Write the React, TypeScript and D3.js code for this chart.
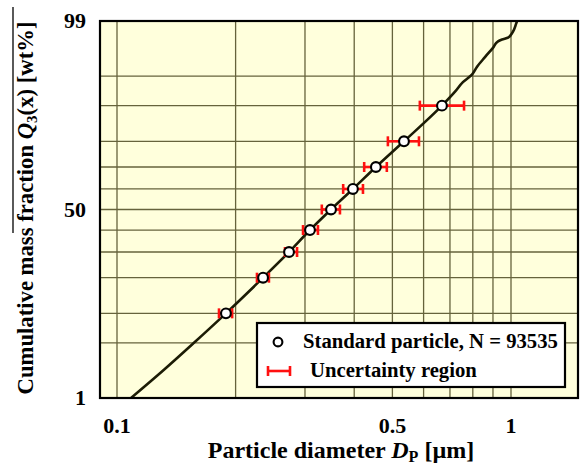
import React from 'react'
import * as d3 from 'd3'

// particle diameter [µm] at each measured cumulative fraction
const pointQ = [10, 20, 30, 40, 50, 60, 70, 80, 90]
const pointD = [0.189, 0.2348, 0.2733, 0.3089, 0.3493, 0.397, 0.454, 0.535, 0.668]
const errLow = [0.1815, 0.2266, 0.2669, 0.2966, 0.331, 0.375, 0.424, 0.487, 0.587]
const errHigh = [0.196, 0.243, 0.2864, 0.3236, 0.368, 0.421, 0.484, 0.584, 0.76]

// full distribution curve
const curveD = [0.1085, 0.1316, 0.1568, 0.189, 0.2348, 0.2733, 0.3089, 0.3493, 0.397, 0.454, 0.535, 0.668,
  0.721, 0.755, 0.796, 0.82, 0.859, 0.9, 0.927, 0.949, 0.983, 1.012, 1.03, 1.036]
const curveQ = [1, 2.4, 5, 10, 20, 30, 40, 50, 60, 70, 80, 90,
  92.7, 94.2, 95.2, 96.1, 97.0, 97.7, 98.1, 98.2, 98.3, 98.6, 98.9, 99.0]

const xTicks = [0.1, 0.5, 1]
const xGrid = [0.1, 0.2, 0.3, 0.4, 0.5, 0.6, 0.7, 0.8, 0.9, 1]
const yTicks = [1, 50, 99]
const yGrid = [5, 10, 20, 30, 40, 50, 60, 70, 80, 90, 95]

// inverse normal CDF (Acklam)
function probit(p: number) {
  const a = [-39.69683028665376, 220.9460984245205, -275.9285104469687, 138.357751867269, -30.66479806614716, 2.506628277459239]
  const b = [-54.47609879822406, 161.5858368580409, -155.6989798598866, 66.80131188771972, -13.28068155288572]
  const c = [-0.007784894002430293, -0.3223964580411365, -2.400758277161838, -2.549732539343734, 4.374664141464968, 2.938163982698783]
  const d = [0.007784695709041462, 0.3224671290700398, 2.445134137142996, 3.754408661907416]
  const pl = 0.02425
  if (p < pl) {
    const q = Math.sqrt(-2 * Math.log(p))
    return (((((c[0] * q + c[1]) * q + c[2]) * q + c[3]) * q + c[4]) * q + c[5]) / ((((d[0] * q + d[1]) * q + d[2]) * q + d[3]) * q + 1)
  }
  if (p > 1 - pl) {
    const q = Math.sqrt(-2 * Math.log(1 - p))
    return -(((((c[0] * q + c[1]) * q + c[2]) * q + c[3]) * q + c[4]) * q + c[5]) / ((((d[0] * q + d[1]) * q + d[2]) * q + d[3]) * q + 1)
  }
  const q = p - 0.5
  const r = q * q
  return (((((a[0] * r + a[1]) * r + a[2]) * r + a[3]) * r + a[4]) * r + a[5]) * q / (((((b[0] * r + b[1]) * r + b[2]) * r + b[3]) * r + b[4]) * r + 1)
}

const W = 581
const H = 466
const left = 100
const right = 578
const top = 21
const bottom = 398

export default function App() {
  // 0.1 sits at x=117, 1 at x=511
  const pxPerDecade = 394
  const dMin = 0.1 * Math.pow(10, (left - 117) / pxPerDecade)
  const dMax = 0.1 * Math.pow(10, (right - 117) / pxPerDecade)
  const x = d3.scaleLog().domain([dMin, dMax]).range([left, right])
  const z = d3.scaleLinear().domain([probit(0.01), probit(0.99)]).range([bottom, top])
  const y = (q: number) => z(probit(q / 100))

  const line = d3
    .line<number>()
    .x((d, i) => x(curveD[i]))
    .y((d) => y(d))
    .curve(d3.curveMonotoneY)

  const font = '"Liberation Serif", "Times New Roman", serif'
  const gridColor = '#66633c'

  return (
    <svg width={W} height={H} style={{ position: 'absolute', left: 0, top: 0, fontFamily: font, fontWeight: 'bold' }}>
      <rect x={0} y={0} width={W} height={H} fill="#fff" />
      <rect x={left} y={top} width={right - left} height={bottom - top} fill="#ffffdc" />
      <defs>
        <clipPath id="plot">
          <rect x={left} y={top} width={right - left} height={bottom - top} />
        </clipPath>
      </defs>
      {xGrid.map((v) => (
        <line key={'xg' + v} x1={x(v)} x2={x(v)} y1={top} y2={bottom} stroke={gridColor} strokeWidth={1.3} />
      ))}
      {yGrid.map((v) => (
        <line key={'yg' + v} x1={left} x2={right} y1={y(v)} y2={y(v)} stroke={gridColor} strokeWidth={1.3} />
      ))}
      <path d={line(curveQ) || ''} fill="none" stroke="#1c1c05" strokeWidth={2.6} clipPath="url(#plot)" />
      {pointQ.map((q, i) => (
        <g key={'e' + q} stroke="#ff1010" strokeWidth={2.6}>
          <line x1={x(errLow[i])} x2={x(errHigh[i])} y1={y(q)} y2={y(q)} />
          <line x1={x(errLow[i])} x2={x(errLow[i])} y1={y(q) - 5} y2={y(q) + 5} />
          <line x1={x(errHigh[i])} x2={x(errHigh[i])} y1={y(q) - 5} y2={y(q) + 5} />
        </g>
      ))}
      {pointQ.map((q, i) => (
        <circle key={'p' + q} cx={x(pointD[i])} cy={y(q)} r={4.9} fill="#fff" stroke="#000" strokeWidth={2.1} />
      ))}
      <rect x={left} y={top} width={right - left} height={bottom - top} fill="none" stroke="#000" strokeWidth={2.2} />

      {xTicks.map((v) => (
        <text key={'xt' + v} x={x(v)} y={433} textAnchor="middle" fontSize={22}>{v}</text>
      ))}
      {yTicks.map((v) => (
        <text key={'yt' + v} x={86} y={y(v) + 7} textAnchor="end" fontSize={22}>{v}</text>
      ))}

      <text x={341} y={458} textAnchor="middle" fontSize={24}>
        Particle diameter <tspan fontStyle="italic">D</tspan><tspan fontSize={16} dy={4}>P</tspan><tspan dy={-4}> [µm]</tspan>
      </text>

      <text transform="translate(33,208) rotate(-90)" textAnchor="middle" fontSize={22.7}>
        Cumulative mass fraction <tspan fontStyle="italic">Q</tspan><tspan fontSize={15} dy={4}>3</tspan><tspan dy={-4}>(x) [wt%]</tspan>
      </text>
      <line x1={13} x2={13} y1={7} y2={233} stroke="#000" strokeWidth={1.3} />

      <g>
        <rect x={257} y={323} width={308} height={64} fill="#fff" stroke="#000" strokeWidth={2.2} />
        <circle cx={278} cy={342} r={4.4} fill="#fff" stroke="#000" strokeWidth={2.1} />
        <text x={303} y={348} fontSize={20.7}>Standard particle, N = 93535</text>
        <g stroke="#ff1010" strokeWidth={2.6}>
          <line x1={268} x2={290} y1={371} y2={371} />
          <line x1={268} x2={268} y1={366} y2={376} />
          <line x1={290} x2={290} y1={366} y2={376} />
        </g>
        <text x={310} y={377} fontSize={20.7}>Uncertainty region</text>
      </g>
    </svg>
  )
}
